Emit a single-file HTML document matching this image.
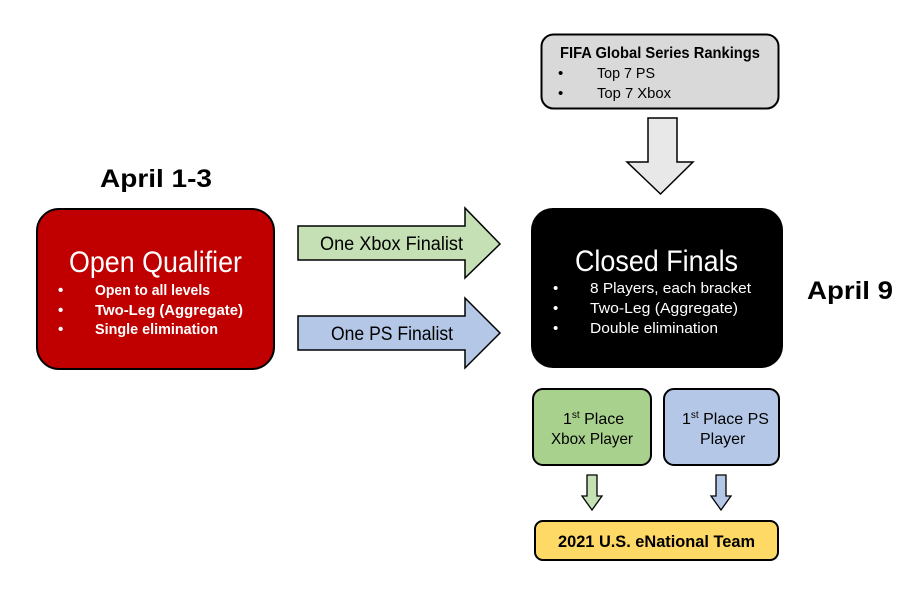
<!DOCTYPE html>
<html><head><meta charset="utf-8"><style>html,body{margin:0;padding:0;background:#fff}svg{display:block}</style></head>
<body>
<svg width="918" height="613" viewBox="0 0 918 613" xmlns="http://www.w3.org/2000/svg" font-family="'Liberation Sans Narrow','Liberation Sans',sans-serif">
<rect x="541.5" y="34.5" width="237" height="74" rx="12" fill="#d9d9d9" stroke="#000" stroke-width="2"/>
<text x="560" y="58" font-size="16" font-weight="bold" textLength="200" lengthAdjust="spacingAndGlyphs">FIFA Global Series Rankings</text>
<text x="558" y="78" font-size="15">•</text><text x="597" y="78" font-size="15" textLength="58" lengthAdjust="spacingAndGlyphs">Top 7 PS</text>
<text x="558" y="98" font-size="15">•</text><text x="597" y="98" font-size="15" textLength="74" lengthAdjust="spacingAndGlyphs">Top 7 Xbox</text>
<polygon points="648,118 677,118 677,162 693,162 660.5,194 627,162 648,162" fill="#e8e8e8" stroke="#000" stroke-width="1.5"/>
<text x="100" y="187" font-family="'Liberation Sans',sans-serif" font-size="25" font-weight="bold" textLength="112" lengthAdjust="spacingAndGlyphs">April 1-3</text>
<text x="807" y="299" font-family="'Liberation Sans',sans-serif" font-size="25" font-weight="bold" textLength="86" lengthAdjust="spacingAndGlyphs">April 9</text>
<rect x="37" y="209" width="237" height="160" rx="22" fill="#c00000" stroke="#000" stroke-width="2"/>
<text x="69" y="272" font-size="30" fill="#fff" textLength="173" lengthAdjust="spacingAndGlyphs">Open Qualifier</text>
<g fill="#fff" font-size="15" font-weight="bold">
<text x="58" y="295">•</text><text x="95" y="295" textLength="115" lengthAdjust="spacingAndGlyphs">Open to all levels</text>
<text x="58" y="315">•</text><text x="95" y="315" textLength="148" lengthAdjust="spacingAndGlyphs">Two-Leg (Aggregate)</text>
<text x="58" y="334">•</text><text x="95" y="334" textLength="123" lengthAdjust="spacingAndGlyphs">Single elimination</text>
</g>
<polygon points="298,226 465,226 465,208 500,244 465,278 465,260 298,260" fill="#c5e0b4" stroke="#000" stroke-width="1.5"/>
<text x="320" y="250" font-size="19" textLength="143" lengthAdjust="spacingAndGlyphs">One Xbox Finalist</text>
<polygon points="298,316 465,316 465,298 500,333 465,368 465,350 298,350" fill="#b4c7e7" stroke="#000" stroke-width="1.5"/>
<text x="331" y="340" font-size="19" textLength="122" lengthAdjust="spacingAndGlyphs">One PS Finalist</text>
<rect x="531" y="208" width="252" height="160" rx="22" fill="#000"/>
<text x="575" y="271" font-size="30" fill="#fff" textLength="163" lengthAdjust="spacingAndGlyphs">Closed Finals</text>
<g fill="#fff" font-size="15">
<text x="553" y="293">•</text><text x="590" y="293" textLength="161" lengthAdjust="spacingAndGlyphs">8 Players, each bracket</text>
<text x="553" y="313">•</text><text x="590" y="313" textLength="148" lengthAdjust="spacingAndGlyphs">Two-Leg (Aggregate)</text>
<text x="553" y="333">•</text><text x="590" y="333" textLength="128" lengthAdjust="spacingAndGlyphs">Double elimination</text>
</g>
<rect x="533" y="389" width="118" height="76" rx="10" fill="#a9d18e" stroke="#000" stroke-width="2"/>
<text x="563" y="424" font-size="16">1<tspan font-size="10" dy="-6">st</tspan><tspan dy="6"> Place</tspan></text>
<text x="551" y="444" font-size="16" textLength="82" lengthAdjust="spacingAndGlyphs">Xbox Player</text>
<rect x="664" y="389" width="115" height="76" rx="10" fill="#b4c7e7" stroke="#000" stroke-width="2"/>
<text x="682" y="424" font-size="16">1<tspan font-size="10" dy="-6">st</tspan><tspan dy="6"> Place PS</tspan></text>
<text x="700" y="444" font-size="16">Player</text>
<polygon points="587,475 597,475 597,496 602,496 592,510 582,496 587,496" fill="#c5e0b4" stroke="#000" stroke-width="1.3"/>
<polygon points="716,475 726,475 726,496 731,496 721,510 711,496 716,496" fill="#b4c7e7" stroke="#000" stroke-width="1.3"/>
<rect x="535" y="521" width="243" height="39" rx="8" fill="#ffd966" stroke="#000" stroke-width="2"/>
<text x="558" y="547" font-size="17" font-weight="bold" textLength="197" lengthAdjust="spacingAndGlyphs">2021 U.S. eNational Team</text>
</svg>
</body></html>
